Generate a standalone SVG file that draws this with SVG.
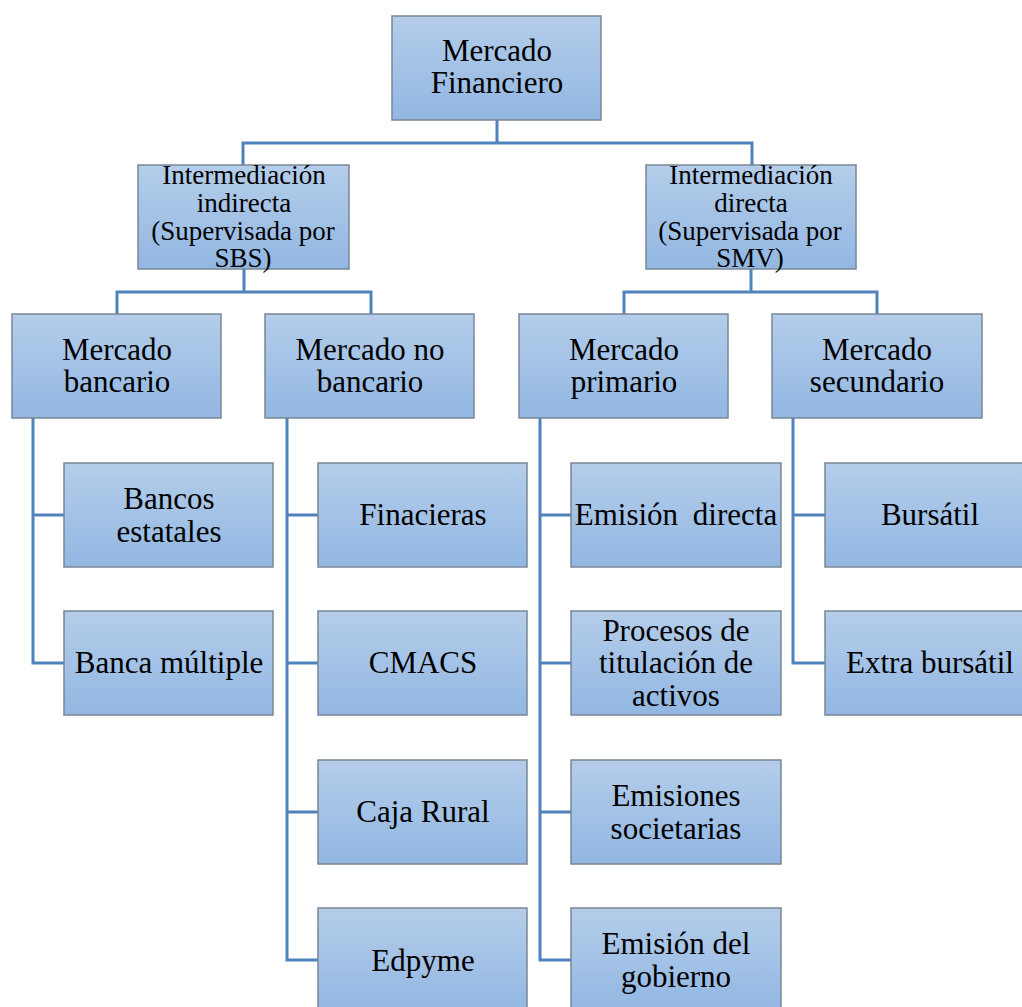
<svg xmlns="http://www.w3.org/2000/svg" width="1022" height="1007" viewBox="0 0 1022 1007">
<defs>
<linearGradient id="g" x1="0" y1="0" x2="0" y2="1">
<stop offset="0" stop-color="#b4cdea"/>
<stop offset="1" stop-color="#92b7e2"/>
</linearGradient>
</defs>
<style>
.box{fill:url(#g);stroke:#7a8796;stroke-width:1.5}
.t{font-family:"Liberation Serif","Times New Roman",serif;font-size:31px;fill:#000;text-anchor:middle}
.s{font-family:"Liberation Serif","Times New Roman",serif;font-size:27px;fill:#000;text-anchor:middle}
.c{fill:none;stroke:#4f81bd;stroke-width:3}
</style>
<rect width="1022" height="1007" fill="#fff"/>
<g id="connectors">
<path class="c" d="M497,120V143M243,165V143H752V165"/>
<path class="c" d="M244,269V292M117,314V292H371V314"/>
<path class="c" d="M751,269V292M624,314V292H877V314"/>
<path class="c" d="M33,418V663H64M33,515H64"/>
<path class="c" d="M287,418V960H318M287,515H318M287,663H318M287,812H318"/>
<path class="c" d="M540,418V960H571M540,515H571M540,663H571M540,812H571"/>
<path class="c" d="M793,418V663H825M793,515H825"/>
</g>
<g id="n-mercado-financiero"><rect class="box" x="392" y="16" width="209" height="104"/><text class="t" x="497" y="61">Mercado</text><text class="t" x="497" y="93">Financiero</text></g>
<g id="n-indirecta"><rect class="box" x="138" y="165" width="211" height="104"/>
<text class="s" x="244" y="184">Intermediación</text>
<text class="s" x="244" y="212">indirecta</text>
<text class="s" x="243" y="240">(Supervisada por</text>
<text class="s" x="243" y="267">SBS)</text></g>
<g id="n-directa"><rect class="box" x="646" y="165" width="210" height="104"/>
<text class="s" x="751" y="184">Intermediación</text>
<text class="s" x="751" y="212">directa</text>
<text class="s" x="750" y="240">(Supervisada por</text>
<text class="s" x="750" y="267">SMV)</text></g>
<g id="n-bancario"><rect class="box" x="12" y="314" width="209" height="104"/><text class="t" x="117" y="360">Mercado</text><text class="t" x="117" y="392">bancario</text></g>
<g id="n-no-bancario"><rect class="box" x="265" y="314" width="209" height="104"/><text class="t" x="370" y="360">Mercado no</text><text class="t" x="370" y="392">bancario</text></g>
<g id="n-primario"><rect class="box" x="519" y="314" width="209" height="104"/><text class="t" x="624" y="360">Mercado</text><text class="t" x="624" y="392">primario</text></g>
<g id="n-secundario"><rect class="box" x="772" y="314" width="210" height="104"/><text class="t" x="877" y="360">Mercado</text><text class="t" x="877" y="392">secundario</text></g>
<g id="n-bancos-estatales"><rect class="box" x="64" y="463" width="209" height="104"/><text class="t" x="169" y="509">Bancos</text><text class="t" x="169" y="542">estatales</text></g>
<g id="n-banca-multiple"><rect class="box" x="64" y="611" width="209" height="104"/><text class="t" x="169" y="673">Banca múltiple</text></g>
<g id="n-finacieras"><rect class="box" x="318" y="463" width="209" height="104"/><text class="t" x="423" y="525">Finacieras</text></g>
<g id="n-cmacs"><rect class="box" x="318" y="611" width="209" height="104"/><text class="t" x="423" y="673">CMACS</text></g>
<g id="n-caja-rural"><rect class="box" x="318" y="760" width="209" height="104"/><text class="t" x="423" y="822">Caja Rural</text></g>
<g id="n-edpyme"><rect class="box" x="318" y="908" width="209" height="104"/><text class="t" x="423" y="971">Edpyme</text></g>
<g id="n-emision-directa"><rect class="box" x="571" y="463" width="210" height="104"/><text class="t" x="676" y="525" word-spacing="7">Emisión directa</text></g>
<g id="n-titulacion"><rect class="box" x="571" y="611" width="210" height="104"/><text class="t" x="676" y="641">Procesos de</text><text class="t" x="676" y="673">titulación de</text><text class="t" x="676" y="706">activos</text></g>
<g id="n-societarias"><rect class="box" x="571" y="760" width="210" height="104"/><text class="t" x="676" y="806">Emisiones</text><text class="t" x="676" y="839">societarias</text></g>
<g id="n-gobierno"><rect class="box" x="571" y="908" width="210" height="104"/><text class="t" x="676" y="954">Emisión del</text><text class="t" x="676" y="987">gobierno</text></g>
<g id="n-bursatil"><rect class="box" x="825" y="463" width="210" height="104"/><text class="t" x="930" y="525">Bursátil</text></g>
<g id="n-extra-bursatil"><rect class="box" x="825" y="611" width="210" height="104"/><text class="t" x="930" y="673">Extra bursátil</text></g>
</svg>
